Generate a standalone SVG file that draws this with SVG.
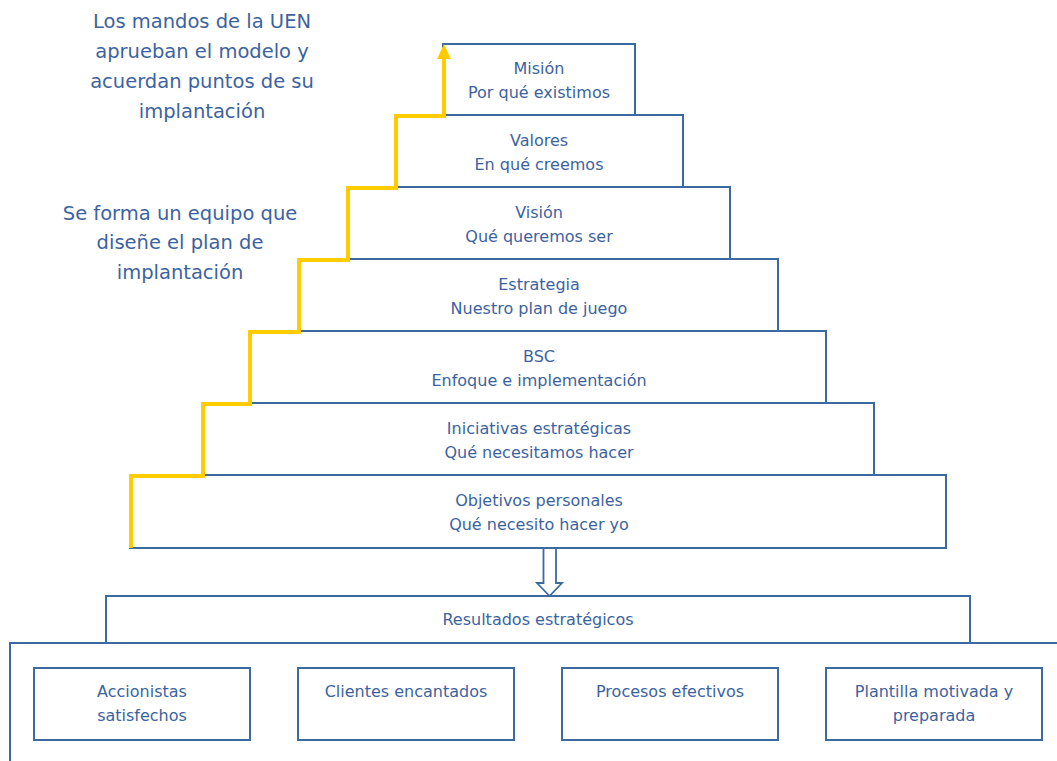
<svg xmlns="http://www.w3.org/2000/svg" width="1057" height="761" viewBox="0 0 1057 761">
  <defs>
    <style>
      .box { fill: #ffffff; stroke: #3b69a0; stroke-width: 2; }
      .lbl { font-family: "Comic Sans MS", "DejaVu Sans", "Noto Sans", sans-serif; font-size: 16px; fill: #3c63a0; text-anchor: middle; }
      .note { font-family: "Comic Sans MS", "DejaVu Sans", "Noto Sans", sans-serif; font-size: 19.5px; fill: #3c63a0; text-anchor: middle; }
      .stair { fill: none; stroke: #ffcc00; stroke-width: 4; stroke-linejoin: miter; }
    </style>
  </defs>
  <rect width="1057" height="761" fill="#ffffff"/>

  <!-- side notes -->
  <g id="note-mandos">
    <text class="note" x="202" y="28">Los mandos de la UEN</text>
    <text class="note" x="202" y="58">aprueban el modelo y</text>
    <text class="note" x="202" y="88">acuerdan puntos de su</text>
    <text class="note" x="202" y="118">implantación</text>
  </g>
  <g id="note-equipo">
    <text class="note" x="180" y="220">Se forma un equipo que</text>
    <text class="note" x="180" y="249">diseñe el plan de</text>
    <text class="note" x="180" y="279">implantación</text>
  </g>

  <!-- pyramid levels -->
  <g id="mision">
    <rect class="box" x="443" y="44" width="192" height="71"/>
    <text class="lbl" x="539" y="74">Misión</text>
    <text class="lbl" x="539" y="98">Por qué existimos</text>
  </g>
  <g id="valores">
    <rect class="box" x="396" y="115" width="287" height="72"/>
    <text class="lbl" x="539" y="146">Valores</text>
    <text class="lbl" x="539" y="170">En qué creemos</text>
  </g>
  <g id="vision">
    <rect class="box" x="348" y="187" width="382" height="72"/>
    <text class="lbl" x="539" y="218">Visión</text>
    <text class="lbl" x="539" y="242">Qué queremos ser</text>
  </g>
  <g id="estrategia">
    <rect class="box" x="299" y="259" width="479" height="72"/>
    <text class="lbl" x="539" y="290">Estrategia</text>
    <text class="lbl" x="539" y="314">Nuestro plan de juego</text>
  </g>
  <g id="bsc">
    <rect class="box" x="250" y="331" width="576" height="72"/>
    <text class="lbl" x="539" y="362">BSC</text>
    <text class="lbl" x="539" y="386">Enfoque e implementación</text>
  </g>
  <g id="iniciativas">
    <rect class="box" x="203" y="403" width="671" height="72"/>
    <text class="lbl" x="539" y="434">Iniciativas estratégicas</text>
    <text class="lbl" x="539" y="458">Qué necesitamos hacer</text>
  </g>
  <g id="objetivos">
    <rect class="box" x="130" y="475" width="816" height="73"/>
    <text class="lbl" x="539" y="506">Objetivos personales</text>
    <text class="lbl" x="539" y="530">Qué necesito hacer yo</text>
  </g>

  <!-- results area -->
  <g id="resultados">
    <path class="box" d="M106,643 V596 H970 V643"/>
    <text class="lbl" x="538" y="625">Resultados estratégicos</text>
  </g>
  <g id="contenedor">
    <path class="box" style="fill:none" d="M10,761 V643 H1060"/>
  </g>
  <g id="accionistas">
    <rect class="box" x="34" y="668" width="216" height="72"/>
    <text class="lbl" x="142" y="697">Accionistas</text>
    <text class="lbl" x="142" y="721">satisfechos</text>
  </g>
  <g id="clientes">
    <rect class="box" x="298" y="668" width="216" height="72"/>
    <text class="lbl" x="406" y="697">Clientes encantados</text>
  </g>
  <g id="procesos">
    <rect class="box" x="562" y="668" width="216" height="72"/>
    <text class="lbl" x="670" y="697">Procesos efectivos</text>
  </g>
  <g id="plantilla">
    <rect class="box" x="826" y="668" width="216" height="72"/>
    <text class="lbl" x="934" y="697">Plantilla motivada y</text>
    <text class="lbl" x="934" y="721">preparada</text>
  </g>

  <!-- connectors -->
  <g id="connectors">
    <path class="stair" d="M131,548 V476 H203 V404 H250 V332 H299 V260 H348 V188 H396 V116 H444 V58"/>
    <path d="M437,59 L444,44 L451,59 Z" fill="#ffcc00"/>
    <path d="M543.5,549 V583 H537 L549.5,596 L562,583 H556 V549" fill="#ffffff" stroke="#3b69a0" stroke-width="1.8" stroke-linejoin="miter"/>
  </g>
</svg>
